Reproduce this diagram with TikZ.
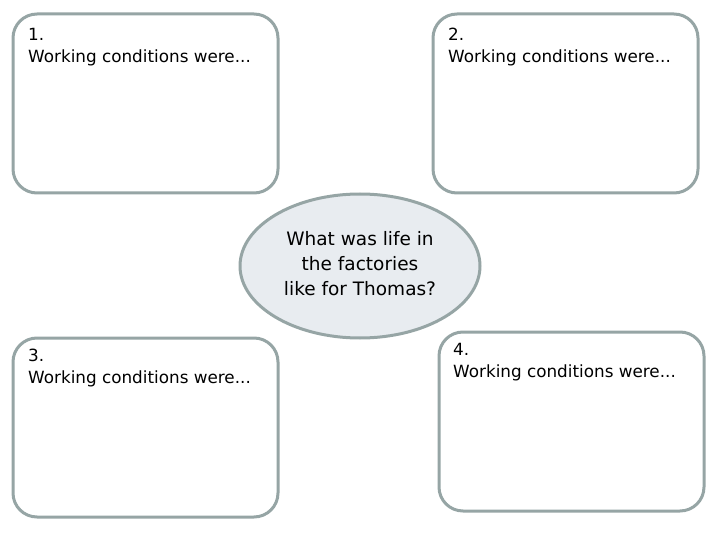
\documentclass[tikz,border=0pt]{standalone}
\usepackage{fontspec}
\usetikzlibrary{shapes.geometric}
\setmainfont{DejaVu Sans}
\definecolor{bord}{RGB}{150,165,165}
\definecolor{efill}{RGB}{232,236,240}
\begin{document}
\begin{tikzpicture}[x=1pt,y=-1pt,
  card/.style={draw=bord,line width=3pt,rounded corners=24pt,fill=white},
  lbl/.style={anchor=north west,align=left,font=\fontsize{16.8}{22}\selectfont,inner sep=0pt}]
\useasboundingbox (0,0) rectangle (720,540);
\draw[card] (13,14) rectangle (278,193);
\draw[card] (433,14) rectangle (698,193);
\draw[card] (13,338) rectangle (278,517);
\draw[card] (439,332) rectangle (704,511);
\node[draw=bord,line width=3pt,fill=efill,ellipse,minimum width=240pt,minimum height=144pt] (c) at (360,266) {};
\node[align=center,font=\fontsize{18.5}{25}\selectfont] (ct) at (360,264) {What was life in\\the factories\\like for Thomas?};
\node[lbl] (t1) at (28,28) {1.\\Working conditions were...};
\node[lbl] (t2) at (448,28) {2.\\Working conditions were...};
\node[lbl] (t3) at (28,349) {3.\\Working conditions were...};
\node[lbl] (t4) at (453,343) {4.\\Working conditions were...};
\end{tikzpicture}
\end{document}
